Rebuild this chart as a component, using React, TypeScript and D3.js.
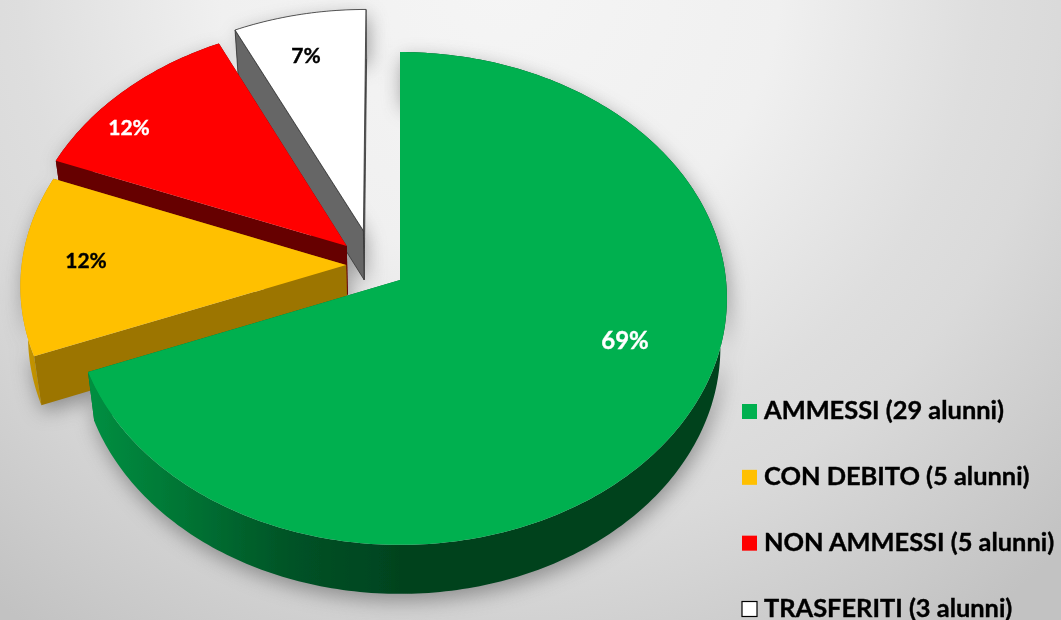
import React from "react";
import * as d3 from "d3";

const categories = ["AMMESSI", "CON DEBITO", "NON AMMESSI", "TRASFERITI"];
const legendLabels = ["AMMESSI (29 alunni)", "CON DEBITO (5 alunni)", "NON AMMESSI (5 alunni)", "TRASFERITI (3 alunni)"];
const values = [29, 5, 5, 3];
const percentLabels = ["69%", "12%", "12%", "7%"];
const topColors = ["#00B050", "#FFC000", "#FF0000", "#FFFFFF"];
const radialWallColors = ["#006B30", "#9C7500", "#660000", "#666666"];
const labelColors = ["#FFFFFF", "#000000", "#FFFFFF", "#000000"];

// pie-space explosion of each slice (unit disk coordinates)
const explodeU = [0, -0.166, -0.165, -0.114];
const explodeV = [0, -0.061, -0.14, -0.204];
const labelX = [625, 86, 129, 306];
const labelY = [339, 259, 126, 54];

const W = 1061, H = 620;
const CX = 400, CY = 280, RX = 326, RY = 245, P = 0.075;
const DEPTH = 49, SHRINK = 0.98;

type Pt = [number, number];
const top = (u: number, v: number): Pt => {
  const w = 1 - P * v;
  return [CX + (RX * u) / w, CY + (RY * v) / w];
};
const bottom = ([x, y]: Pt): Pt => [CX + (x - CX) * SHRINK, y + DEPTH];

const pie = d3.pie<number>().sort(null).value((d) => d);
const arcs = pie(values);
const line = d3.line<Pt>();

function slicePts(i: number) {
  const a = arcs[i];
  const n = Math.max(8, Math.ceil((a.endAngle - a.startAngle) * 60));
  const outer: Pt[] = d3.range(n + 1).map((k) => {
    const t = a.startAngle + ((a.endAngle - a.startAngle) * k) / n;
    return top(Math.sin(t) + explodeU[i], -Math.cos(t) + explodeV[i]);
  });
  const apex = top(explodeU[i], explodeV[i]);
  return { outer, apex };
}

const legendY = d3.scalePoint<string>().domain(categories).range([411.5, 609]);
const order = [3, 2, 1, 0];

export default function App() {
  const silhouette = order.map((i) => {
    const { outer, apex } = slicePts(i);
    return line([apex, ...outer, ...outer.slice().reverse().map(bottom), bottom(apex)]) + "Z";
  });
  return (
    <svg width={W} height={H} viewBox={`0 0 ${W} ${H}`} style={{ position: "absolute", left: 0, top: 0 }}>
      <defs>
        <radialGradient id="bg" gradientUnits="userSpaceOnUse" cx={500} cy={-20} r={800}>
          <stop offset="0" stopColor="#F5F5F5" />
          <stop offset="0.35" stopColor="#F0F0F0" />
          <stop offset="0.6" stopColor="#DEDEDE" />
          <stop offset="0.7" stopColor="#DADADA" />
          <stop offset="0.875" stopColor="#CCCCCC" />
          <stop offset="1" stopColor="#C2C2C2" />
        </radialGradient>
        <linearGradient id="wall0" gradientUnits="userSpaceOnUse" x1={90} x2={725} y1={0} y2={0}>
          <stop offset="0" stopColor="#008F41" />
          <stop offset="0.16" stopColor="#007233" />
          <stop offset="0.32" stopColor="#005226" />
          <stop offset="0.5" stopColor="#00421E" />
          <stop offset="1" stopColor="#00421E" />
        </linearGradient>
        <linearGradient id="wall1" gradientUnits="userSpaceOnUse" x1={20} x2={60} y1={0} y2={0}>
          <stop offset="0" stopColor="#C99800" />
          <stop offset="1" stopColor="#B08500" />
        </linearGradient>
        <filter id="sh" x="-20%" y="-20%" width="140%" height="140%">
          <feGaussianBlur stdDeviation="10" />
        </filter>
        <filter id="soft" x="-5%" y="-5%" width="110%" height="110%">
          <feGaussianBlur stdDeviation="0.45" />
        </filter>
      </defs>
      <rect width={W} height={H} fill="url(#bg)" />
      <g filter="url(#sh)" opacity={0.65} transform="translate(2 7)">
        {silhouette.map((d, k) => <path key={k} d={d} fill="#666" />)}
      </g>
      <g filter="url(#soft)">
        {order.map((i) => {
          const { outer, apex } = slicePts(i);
          const first = outer[0], last = outer[outer.length - 1];
          const outerWall = line([...outer, ...outer.slice().reverse().map(bottom)]) + "Z";
          const wallA = line([apex, first, bottom(first), bottom(apex)]) + "Z";
          const wallB = line([apex, last, bottom(last), bottom(apex)]) + "Z";
          const face = line([apex, ...outer]) + "Z";
          const outerFill = i === 0 ? "url(#wall0)" : i === 1 ? "url(#wall1)" : radialWallColors[i];
          const edge = i === 3 ? "#333" : "none";
          return (
            <g key={categories[i]}>
              <path d={wallB} fill={radialWallColors[i]} stroke={edge} strokeWidth={0.8} />
              <path d={outerWall} fill={outerFill} />
              <path d={wallA} fill={radialWallColors[i]} stroke={edge} strokeWidth={0.8} />
              <path d={face} fill={topColors[i]} stroke={edge} strokeWidth={0.8} />
            </g>
          );
        })}
        {percentLabels.map((t, i) => (
          <text key={i} x={labelX[i]} y={labelY[i]} textAnchor="middle" dominantBaseline="central"
            fontFamily="Lato" fontWeight={700} fontSize={i === 0 ? 24 : 21} fill={labelColors[i]}
            stroke={labelColors[i]} strokeWidth={0.35}>{t}</text>
        ))}
        {categories.map((c, i) => {
          const y = legendY(c)!;
          return (
            <g key={c}>
              <rect x={742} y={y - 7.5} width={15} height={15} fill={topColors[i]}
                stroke={i === 3 ? "#000" : "none"} strokeWidth={1.2} />
              <text x={764} y={y + 7.5} fontFamily="Lato" fontWeight={700} fontSize={25.4} fill="#000"
                stroke="#000" strokeWidth={0.4}>{legendLabels[i]}</text>
            </g>
          );
        })}
      </g>
    </svg>
  );
}
